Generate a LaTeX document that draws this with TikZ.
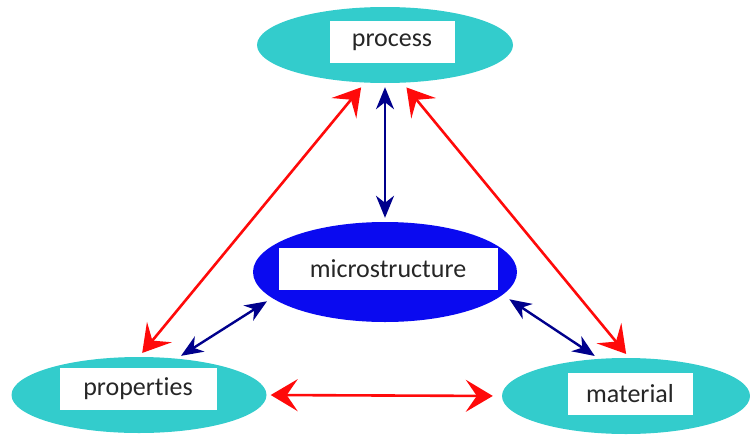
\documentclass[tikz,border=0pt]{standalone}
\usepackage{fontspec}
\setmainfont{Carlito}[Ligatures={NoCommon}]
\usetikzlibrary{shapes.geometric,arrows.meta}
\definecolor{tealfill}{RGB}{51,204,204}
\definecolor{microblue}{RGB}{10,10,240}
\definecolor{navyarrow}{RGB}{0,0,140}
\definecolor{redarrow}{RGB}{255,10,10}
\tikzset{
  ell/.style={ellipse, draw=none, inner sep=0pt},
  tealell/.style={ell, fill=tealfill},
  labelbox/.style={rectangle, fill=white, draw=none, inner sep=0pt, minimum height=42pt,
    font=\fontsize{26}{29}\selectfont, text=black!85},
  redlink/.style={draw=redarrow, line width=2.6pt,
    {Stealth[length=27pt,width=32pt,inset=11pt]}-{Stealth[length=27pt,width=32pt,inset=11pt]}},
  bluelink/.style={draw=navyarrow, line width=2.4pt,
    {Stealth[length=22pt,width=18pt,inset=7pt]}-{Stealth[length=22pt,width=18pt,inset=7pt]}},
}
\begin{document}
\begin{tikzpicture}[x=1pt,y=-1pt]
\useasboundingbox (0,0) rectangle (750,434);
% ellipses
\node[tealell, minimum width=256pt, minimum height=76pt] (proc) at (385,45) {};
\node[ell, fill=microblue, minimum width=264pt, minimum height=100pt] (micro) at (385,272) {};
\node[tealell, minimum width=255pt, minimum height=76pt] (prop) at (139,395) {};
\node[tealell, minimum width=248pt, minimum height=76pt] (mat) at (626,396) {};
% label boxes
\node[labelbox, minimum width=125pt] (proclabel) at (392,42) {process};
\node[labelbox, minimum width=219pt] (microlabel) at (388,269) {microstructure};
\node[labelbox, minimum width=157pt] (proplabel) at (138,389) {properties};
\node[labelbox, minimum width=125pt] (matlabel) at (630,394) {material};
% connectors
\draw[redlink, shorten <=5pt, shorten >=6pt] (prop.90) -- (proc.242);
\draw[redlink, shorten <=6pt, shorten >=5pt] (proc.295) -- (mat.85);
\draw[redlink, shorten <=4pt, shorten >=9pt] (prop.0) -- (mat.180);
\draw[bluelink, shorten <=4pt, shorten >=4pt] (proc.270) -- (micro.90);
\draw[bluelink, shorten <=5pt, shorten >=6pt] (prop.44) -- (micro.193);
\draw[bluelink, shorten <=8pt, shorten >=5pt] (micro.349) -- (mat.126);
\end{tikzpicture}
\end{document}
